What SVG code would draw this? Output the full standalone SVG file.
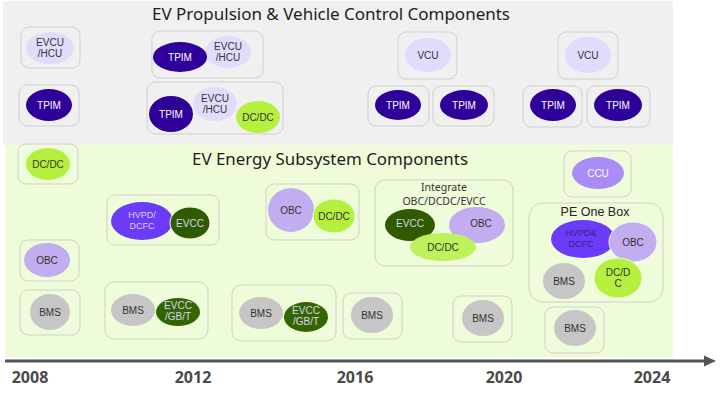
<svg xmlns="http://www.w3.org/2000/svg" width="725" height="397" viewBox="0 0 725 397">
<style>
.box{fill:none;stroke:#cfcfcf;stroke-width:1}
.t{font-family:"Liberation Sans",Arial,sans-serif;font-size:10px;text-anchor:middle;fill:#333}
.w{fill:#ffffff}
.lt{fill:#d9d2f7}
.tpim{fill:#2e0099}
.evcu{fill:#e2dcfc}
.dcdc{fill:#b5f03e}
.obc{fill:#c2adf0}
.bms{fill:#c6c6c6}
.hvpd{fill:#6b3cf7}
.evcc{fill:#2f5a00}
.ccu{fill:#a98cf5}
.title{font-family:"Noto Sans","Open Sans",sans-serif;font-size:15.5px;fill:#1e1e1e}
.year{font-family:"Open Sans","Liberation Sans",sans-serif;font-size:16px;font-weight:bold;fill:#4a4a4a;text-anchor:middle}
.sub{font-family:"Noto Sans","Liberation Sans",sans-serif;font-size:10.5px;fill:#333;text-anchor:middle}
</style>
<rect x="3" y="1" width="670" height="144" fill="#f0f0f0"/>
<rect x="5" y="145" width="668" height="212" fill="#eefcd9"/>
<text class="title" x="152" y="20" textLength="358" lengthAdjust="spacingAndGlyphs">EV Propulsion &amp; Vehicle Control Components</text>
<text class="title" x="192" y="165" textLength="276" lengthAdjust="spacingAndGlyphs">EV Energy Subsystem Components</text>

<g id="connectors">
<line x1="5" y1="361" x2="706" y2="361" stroke="#555" stroke-width="3"/>
<polygon points="704,355.5 716,361 704,366.5" fill="#555"/>
</g>

<g id="years">
<text class="year" x="30" y="383">2008</text>
<text class="year" x="193" y="383">2012</text>
<text class="year" x="355" y="383">2016</text>
<text class="year" x="504" y="383">2020</text>
<text class="year" x="652" y="383">2024</text>
</g>

<g id="n-evcu-2008">
<rect class="box" x="21" y="27" width="59" height="41" rx="8"/>
<ellipse class="evcu" cx="50" cy="48" rx="24" ry="16"/>
<text class="t" x="50" y="46">EVCU</text><text class="t" x="50" y="57">/HCU</text>
</g>
<g id="n-tpim-2008">
<rect class="box" x="19" y="85" width="60" height="41" rx="8"/>
<ellipse class="tpim" cx="49" cy="105" rx="23" ry="16"/>
<text class="t w" x="49" y="108.5">TPIM</text>
</g>
<g id="n-tpim-evcu-2012">
<rect class="box" x="152" y="31" width="111" height="47" rx="8"/>
<ellipse class="evcu" cx="228" cy="52" rx="23" ry="16"/>
<ellipse class="tpim" cx="180" cy="57" rx="27" ry="15"/>
<text class="t w" x="180" y="61">TPIM</text>
<text class="t" x="228" y="50">EVCU</text><text class="t" x="228" y="61">/HCU</text>
</g>
<g id="n-tpim-evcu-dcdc-2012">
<rect class="box" x="147" y="82" width="136" height="52" rx="8"/>
<ellipse class="evcu" cx="215" cy="104" rx="22" ry="17"/>
<ellipse class="tpim" cx="171" cy="114" rx="22" ry="18"/>
<ellipse class="dcdc" cx="258" cy="117" rx="22" ry="16"/>
<text class="t w" x="171" y="118">TPIM</text>
<text class="t" x="215" y="102">EVCU</text><text class="t" x="215" y="113">/HCU</text>
<text class="t" x="258" y="121">DC/DC</text>
</g>
<g id="n-vcu-2016">
<rect class="box" x="398" y="32" width="59" height="47" rx="8"/>
<ellipse class="evcu" cx="428" cy="55" rx="23" ry="17"/>
<text class="t" x="428" y="58.5">VCU</text>
</g>
<g id="n-tpim-2016a">
<rect class="box" x="368" y="86" width="61" height="40" rx="8"/>
<ellipse class="tpim" cx="398" cy="105" rx="23" ry="15"/>
<text class="t w" x="398" y="108.5">TPIM</text>
</g>
<g id="n-tpim-2016b">
<rect class="box" x="433" y="86" width="61" height="40" rx="8"/>
<ellipse class="tpim" cx="464" cy="105" rx="24" ry="15"/>
<text class="t w" x="464" y="108.5">TPIM</text>
</g>
<g id="n-vcu-2024">
<rect class="box" x="558" y="32" width="60" height="47" rx="8"/>
<ellipse class="evcu" cx="588" cy="55" rx="23" ry="18"/>
<text class="t" x="588" y="58.5">VCU</text>
</g>
<g id="n-tpim-2024a">
<rect class="box" x="523" y="86" width="59" height="41" rx="8"/>
<ellipse class="tpim" cx="553" cy="105" rx="23" ry="16"/>
<text class="t w" x="553" y="108.5">TPIM</text>
</g>
<g id="n-tpim-2024b">
<rect class="box" x="587" y="86" width="63" height="41" rx="8"/>
<ellipse class="tpim" cx="618" cy="105" rx="24" ry="16"/>
<text class="t w" x="618" y="108.5">TPIM</text>
</g>

<g id="n-dcdc-2008">
<rect class="box" x="18" y="144" width="60" height="40" rx="8"/>
<ellipse class="dcdc" cx="48" cy="164" rx="22" ry="16"/>
<text class="t" x="48" y="167.5">DC/DC</text>
</g>
<g id="n-hvpd-evcc-2012">
<rect class="box" x="107" y="195" width="112" height="50" rx="8"/>
<ellipse class="hvpd" cx="142" cy="221" rx="31" ry="19"/>
<ellipse class="evcc" cx="190" cy="223" rx="20" ry="16" stroke="#eefcd9" stroke-width="1"/>
<text class="t lt" x="142" y="218" style="font-size:9px">HVPD/</text><text class="t lt" x="142" y="229" style="font-size:9px">DCFC</text>
<text class="t lt" x="190" y="226.5">EVCC</text>
</g>
<g id="n-obc-2008">
<rect class="box" x="20" y="240" width="59" height="41" rx="8"/>
<ellipse class="obc" cx="47" cy="260" rx="23" ry="17"/>
<text class="t" x="47" y="263.5">OBC</text>
</g>
<g id="n-bms-2008">
<rect class="box" x="20" y="290" width="60" height="45" rx="8"/>
<ellipse class="bms" cx="50" cy="312" rx="20" ry="18"/>
<text class="t" x="50" y="315.5">BMS</text>
</g>
<g id="n-obc-dcdc-2016">
<rect class="box" x="266" y="184" width="93" height="56" rx="8"/>
<ellipse class="obc" cx="291" cy="210" rx="23" ry="22"/>
<ellipse class="dcdc" cx="334" cy="216" rx="21" ry="17" stroke="#eefcd9" stroke-width="1"/>
<text class="t" x="291" y="213.5">OBC</text>
<text class="t" x="334" y="219.5">DC/DC</text>
</g>
<g id="n-integrate-2020">
<rect class="box" x="375" y="180" width="138" height="86" rx="10"/>
<text class="sub" x="444" y="191">Integrate</text>
<text class="sub" x="444" y="205">OBC/DCDC/EVCC</text>
<ellipse class="evcc" cx="410" cy="225" rx="25" ry="16"/>
<ellipse class="obc" cx="477" cy="225" rx="28" ry="18"/>
<ellipse class="dcdc" cx="443" cy="247" rx="33" ry="14" style="fill:#bdf25a"/>
<text class="t lt" x="410" y="227">EVCC</text>
<text class="t" x="481" y="227">OBC</text>
<text class="t" x="443" y="251">DC/DC</text>
</g>
<g id="n-ccu-2024">
<rect class="box" x="564" y="151" width="67" height="46" rx="8"/>
<ellipse class="ccu" cx="598" cy="173" rx="26" ry="16"/>
<text class="t w" x="598" y="176.5">CCU</text>
</g>
<g id="n-pe-one-box">
<rect class="box" x="529" y="203" width="134" height="99" rx="14"/>
<text class="t" x="595" y="216" style="font-size:12.5px;fill:#222">PE One Box</text>
<ellipse class="hvpd" cx="583" cy="239" rx="32" ry="19"/>
<ellipse class="obc" cx="633" cy="242" rx="24" ry="20" stroke="#f4f0ff" stroke-width="1"/>
<ellipse class="bms" cx="564" cy="281" rx="21" ry="18"/>
<ellipse class="dcdc" cx="618" cy="278" rx="24" ry="20" stroke="#eefcd9" stroke-width="1"/>
<text class="t" x="581" y="236" style="fill:#3a2288;font-size:9px">HVPD&amp;</text><text class="t" x="581" y="247" style="fill:#3a2288;font-size:9px">DCFC</text>
<text class="t" x="633" y="245.5">OBC</text>
<text class="t" x="564" y="284.5">BMS</text>
<text class="t" x="618" y="276">DC/D</text><text class="t" x="618" y="287">C</text>
</g>
<g id="n-bms-2024">
<rect class="box" x="545" y="307" width="59" height="46" rx="8"/>
<ellipse class="bms" cx="575" cy="328" rx="21" ry="18"/>
<text class="t" x="575" y="331.5">BMS</text>
</g>
<g id="n-bms-evcc-2012">
<rect class="box" x="105" y="282" width="103" height="57" rx="9"/>
<ellipse class="bms" cx="133" cy="310" rx="22" ry="16"/>
<ellipse class="evcc" cx="178" cy="312" rx="22" ry="14" style="fill:#336600"/>
<text class="t" x="133" y="313.5">BMS</text>
<text class="t lt" x="178" y="309">EVCC</text><text class="t lt" x="178" y="320">/GB/T</text>
</g>
<g id="n-bms-evcc-2016">
<rect class="box" x="232" y="285" width="104" height="56" rx="9"/>
<ellipse class="bms" cx="261" cy="313" rx="22" ry="16"/>
<ellipse class="evcc" cx="306" cy="317" rx="22" ry="15" style="fill:#336600"/>
<text class="t" x="261" y="316.5">BMS</text>
<text class="t lt" x="306" y="314">EVCC</text><text class="t lt" x="306" y="325">/GB/T</text>
</g>
<g id="n-bms-2016">
<rect class="box" x="343" y="293" width="59" height="46" rx="8"/>
<ellipse class="bms" cx="372" cy="315" rx="21" ry="18"/>
<text class="t" x="372" y="318.5">BMS</text>
</g>
<g id="n-bms-2020">
<rect class="box" x="453" y="296" width="59" height="46" rx="8"/>
<ellipse class="bms" cx="483" cy="318" rx="21" ry="18"/>
<text class="t" x="483" y="321.5">BMS</text>
</g>
</svg>
